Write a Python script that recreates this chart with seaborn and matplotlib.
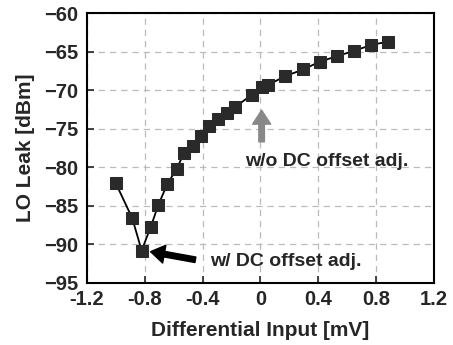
import seaborn as sns
import matplotlib.pyplot as plt
import pandas as pd

# measured LO leak vs differential input
diff_input = [-1.0, -0.887, -0.822, -0.76, -0.707, -0.645, -0.58, -0.527, -0.469,
              -0.414, -0.354, -0.292, -0.234, -0.176, -0.061, 0.008, 0.054,
              0.169, 0.296, 0.411, 0.527, 0.646, 0.764, 0.879]
lo_leak = [-82.1, -86.6, -90.8, -87.8, -84.9, -82.2, -80.2, -78.1, -77.2,
           -76.0, -74.7, -73.7, -73.0, -72.2, -70.6, -69.6, -69.3,
           -68.2, -67.3, -66.3, -65.6, -64.9, -64.15, -63.7]
x_ticks = [-1.2, -0.8, -0.4, 0, 0.4, 0.8, 1.2]
x_tick_labels = ['-1.2', '-0.8', '-0.4', '0', '0.4', '0.8', '1.2']
y_ticks = [-95, -90, -85, -80, -75, -70, -65, -60]

df = pd.DataFrame({'x': diff_input, 'y': lo_leak})

sns.set_style('ticks')
plt.rcParams['font.family'] = ['Liberation Sans', 'DejaVu Sans']
plt.rcParams['font.weight'] = 'bold'

fig, ax = plt.subplots(figsize=(4.53, 3.45), dpi=100)
fig.subplots_adjust(left=0.192, right=0.958, top=0.962, bottom=0.18)

sns.lineplot(data=df, x='x', y='y', ax=ax, color='black', linewidth=1.3,
             marker='s', markersize=8, markerfacecolor='#2a2a2a',
             markeredgecolor='#2a2a2a', sort=False)

ax.set_xlim(-1.2, 1.2)
ax.set_ylim(-95, -60)
ax.set_xticks(x_ticks)
ax.set_xticklabels(x_tick_labels)
ax.set_yticks(y_ticks)
ax.grid(True, color='#bbbbbb', linestyle=(0, (5, 4)), linewidth=0.9)
ax.tick_params(direction='in', length=5, width=1.2, labelsize=14.5)
ax.tick_params(axis='x', pad=5)
ax.tick_params(axis='y', pad=6)
for s in ax.spines.values():
    s.set_linewidth(1.5)
    s.set_color('black')

ax.set_xlabel('Differential Input [mV]', fontsize=15, fontweight='bold', labelpad=9)
ax.set_ylabel('LO Leak [dBm]', fontsize=15, fontweight='bold', labelpad=7)

ax.annotate('', xy=(0.008, -72.6), xytext=(0.008, -76.7),
            arrowprops=dict(facecolor='#888888', edgecolor='#888888',
                            width=4, headwidth=13, headlength=10))
ax.text(0.46, -79.3, 'w/o DC offset adj.', fontsize=14, fontweight='bold',
        ha='center', va='center')

ax.annotate('', xy=(-0.76, -90.95), xytext=(-0.45, -92.0),
            arrowprops=dict(facecolor='black', edgecolor='black',
                            width=4, headwidth=13, headlength=10))
ax.text(-0.35, -92.2, 'w/ DC offset adj.', fontsize=14, fontweight='bold',
        ha='left', va='center')

plt.savefig('out.png', dpi=100)
plt.close()
